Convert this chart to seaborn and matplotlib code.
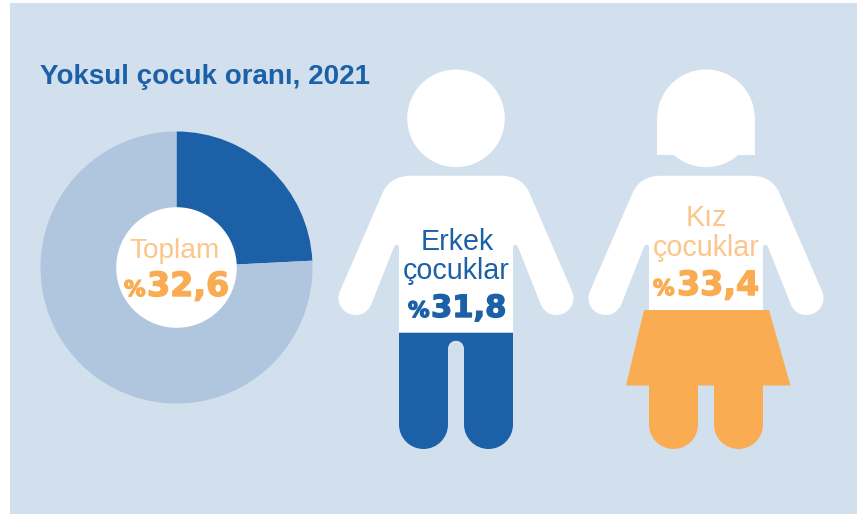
# Yoksul cocuk orani infographic
import matplotlib
matplotlib.use('Agg')
import matplotlib.patheffects as pe
import matplotlib.pyplot as plt
import seaborn as sns
from matplotlib.patches import Circle, PathPatch, Rectangle
from matplotlib.path import Path

# Data
pie_labels = ['Yoksul', 'Diğer']
pie_values = [24.2, 75.8]
title = 'Yoksul çocuk oranı, 2021'
total_label = 'Toplam'
total_value = '32,6'
boy_label = ['Erkek', 'çocuklar']
boy_value = '31,8'
girl_label = ['Kız', 'çocuklar']
girl_value = '33,4'

# Colours
bg = '#D2DFED'
blue = '#1C60A8'
light_blue = '#AFC6DE'
orange = '#F9AC52'
pale_orange = '#FCC58A'

sns.set_theme(style='white')
plt.rcParams['font.family'] = ['Liberation Sans', 'DejaVu Sans']

W, H = 857, 514
fig = plt.figure(figsize=(W / 100, H / 100), dpi=100, facecolor='white')

# Background axes work in image pixels
ax = fig.add_axes([0, 0, 1, 1], zorder=1)
ax.set_xlim(0, W)
ax.set_ylim(H, 0)
ax.axis('off')
ax.add_patch(Rectangle((10, 3), W - 10, H - 3, color=bg, lw=0))


def add_shape(points, color):
    # points: list of (code, x, y)
    codes = [p[0] for p in points]
    verts = [(p[1], p[2]) for p in points]
    ax.add_patch(PathPatch(Path(verts, codes), facecolor=color, edgecolor='none', lw=0))


M, L, C, Z = Path.MOVETO, Path.LINETO, Path.CURVE4, Path.CLOSEPOLY


def upper_body(cx, color='white'):
    # right half outline as offsets from the centre line, mirrored for the left
    side = [
        (M, 44, 175.7),
        (C, 60, 175.7), (C, 68, 182), (C, 73, 192),
        (L, 116, 291),
        (C, 121, 303), (C, 113, 315), (C, 100, 315),
        (C, 93, 315), (C, 88, 311), (C, 85, 305),
        (L, 62, 247),
        (C, 61, 244), (C, 57, 244), (C, 57, 247),
        (L, 57, 333),
    ]
    pts = [(c, cx + x, y) for c, x, y in side]
    pts.append((L, cx - 57, 333))
    for i in range(len(side) - 1, 0, -1):
        pts.append((side[i][0], cx - side[i - 1][1], side[i - 1][2]))
    pts.append((Z, cx, 175.7))
    add_shape(pts, color)


def legs(cx, top, color):
    k = 13.5
    b = 449
    s = 424.5
    pts = [
        (M, cx - 57, top), (L, cx - 57, s),
        (C, cx - 57, s + k), (C, cx - 32.5 - k, b), (C, cx - 32.5, b),
        (C, cx - 32.5 + k, b), (C, cx - 8, s + k), (C, cx - 8, s),
        (L, cx - 8, top), (L, cx + 8, top), (L, cx + 8, s),
        (C, cx + 8, s + k), (C, cx + 32.5 - k, b), (C, cx + 32.5, b),
        (C, cx + 32.5 + k, b), (C, cx + 57, s + k), (C, cx + 57, s),
        (L, cx + 57, top), (Z, cx, top),
    ]
    add_shape(pts, color)


# Boy
boy_x = 456
ax.add_patch(Circle((boy_x, 118.3), 48.8, color='white', lw=0))
upper_body(boy_x)
legs(boy_x, 348, blue)
add_shape([(M, boy_x - 57, 332.7), (L, boy_x + 57, 332.7), (L, boy_x + 57, 349),
           (L, boy_x + 8, 349),
           (C, boy_x + 8, 338), (C, boy_x - 8, 338), (C, boy_x - 8, 349),
           (L, boy_x - 57, 349), (Z, boy_x, 332.7)], blue)

# Girl
girl_x = 706
ax.add_patch(Circle((girl_x, 118.3), 48.8, color='white', lw=0))
ax.add_patch(Rectangle((girl_x - 49, 118), 98, 37, color='white', lw=0))
upper_body(girl_x)
legs(girl_x, 380, orange)
add_shape([(M, 644, 310), (L, 769, 310), (L, 790.5, 385.5), (L, 626, 385.5), (Z, 644, 310)], orange)

# Donut, in its own axes so the pie keeps its usual orientation
cx, cy, r = 176.5, 267.5, 136
pie_ax = fig.add_axes([(cx - r) / W, 1 - (cy + r) / H, 2 * r / W, 2 * r / H], zorder=2)
pie_ax.pie(pie_values, colors=[blue, light_blue], startangle=90, counterclock=False,
           radius=1, wedgeprops={'linewidth': 0})
pie_ax.set_xlim(-1, 1)
pie_ax.set_ylim(-1, 1)
pie_ax.add_patch(Circle((0, 0), 60.3 / r, color='white', lw=0))

# Texts sit on top of everything
tx = fig.add_axes([0, 0, 1, 1], zorder=3)
tx.set_xlim(0, W)
tx.set_ylim(H, 0)
tx.axis('off')
tx.patch.set_alpha(0)

tx.text(40, 76.5, title, color=blue, fontsize=20, fontweight='bold', ha='left', va='center')


def number(x_pct, x_num, y, value, color, size=24):
    # no heavy geometric face installed, so thicken DejaVu Bold with a stroke
    heavy = [pe.withStroke(linewidth=1.0, foreground=color)]
    tx.text(x_pct, y, '%', color=color, fontsize=15.5, fontweight='bold',
            family=['DejaVu Sans'], ha='left', va='baseline', path_effects=heavy)
    tx.text(x_num, y, value, color=color, fontsize=size, fontweight='bold',
            family=['DejaVu Sans'], ha='left', va='baseline', path_effects=heavy)


tx.text(175, 251, total_label, color=pale_orange, fontsize=20.2, ha='center', va='center')
number(124, 147, 296, total_value, orange)

tx.text(457, 241.5, boy_label[0], color=blue, fontsize=20.6, ha='center', va='center')
tx.text(456, 271, boy_label[1], color=blue, fontsize=20.6, ha='center', va='center')
number(408, 431, 317, boy_value, blue, size=22)

tx.text(706, 218.5, girl_label[0], color=pale_orange, fontsize=20.6, ha='center', va='center')
tx.text(706, 248, girl_label[1], color=pale_orange, fontsize=20.6, ha='center', va='center')
number(653, 677, 295, girl_value, orange)

fig.savefig('out.png', dpi=100, facecolor='white')
